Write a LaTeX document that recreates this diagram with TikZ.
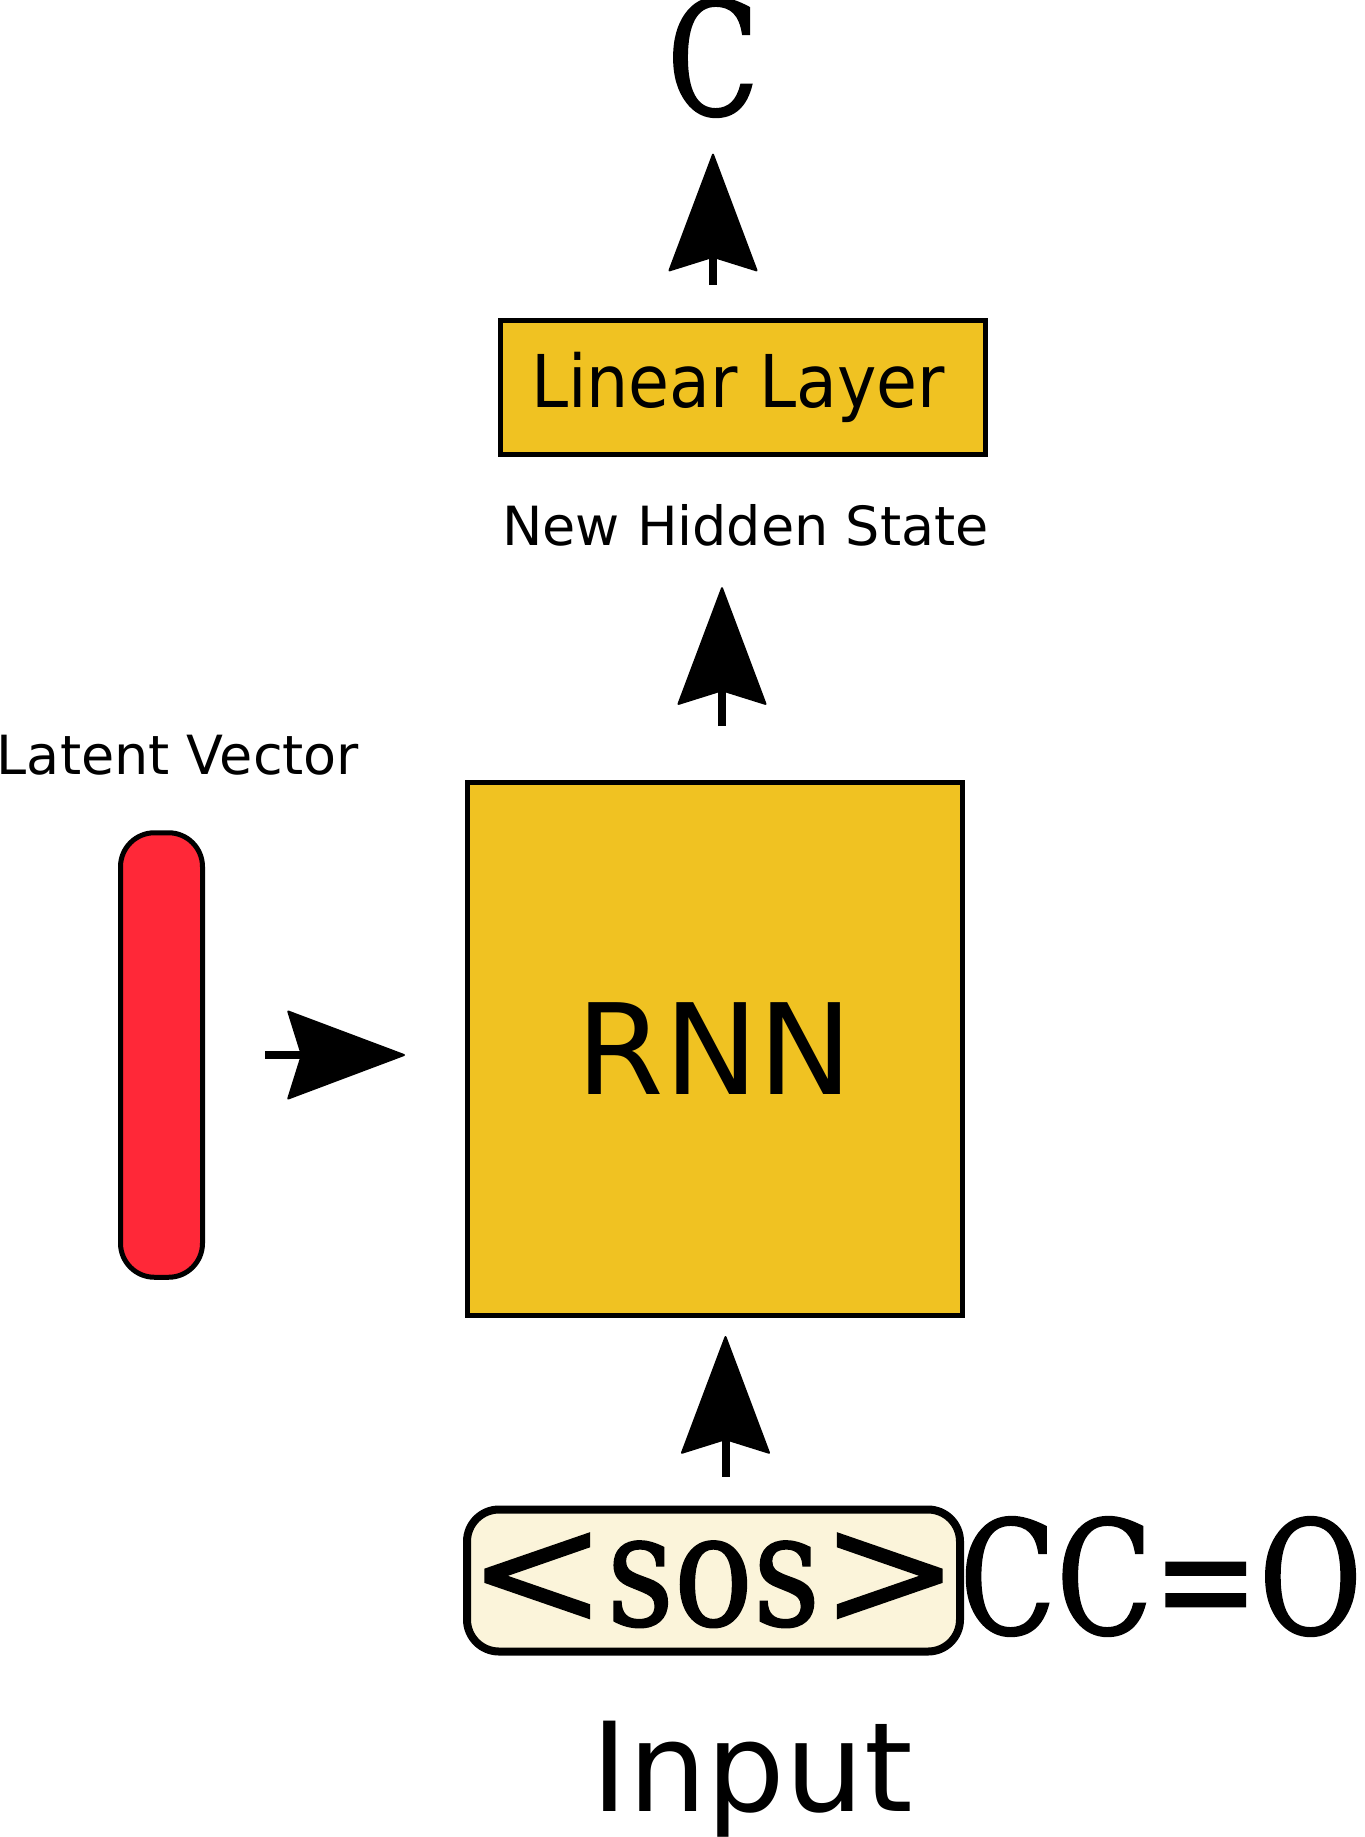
\documentclass[tikz,border=0pt]{standalone}
\usepackage{fontspec}
\usetikzlibrary{arrows.meta}
\newfontfamily\dvsans{DejaVu Sans}
\newfontfamily\dvserif[FakeBold=1.2]{DejaVu Serif}
\definecolor{layergold}{RGB}{240,194,34}
\definecolor{latentred}{RGB}{255,40,56}
\definecolor{soscream}{RGB}{251,244,218}
\newcommand{\fsz}[1]{\fontsize{#1}{#1}\selectfont}
\newcommand{\narrow}[2][0.83]{\scalebox{#1}[1]{#2}}

\begin{document}
\begin{tikzpicture}[x=0.5pt, y=-0.5pt,
    arr/.style={-{Stealth[length=60pt, width=45pt, inset=7pt, line width=1pt, round]}, line width=4pt},
    layer/.style={draw, line width=2.5pt, fill=layergold, inner sep=0pt},
    lbl/.style={font=\dvsans\fsz{27pt}, inner sep=0pt, anchor=base}]
    \useasboundingbox (0,0) rectangle (1365,1837);

    % Output token and linear layer
    \node[font=\dvserif\fsz{79pt}, inner sep=0pt, anchor=base] (c) at (713,115) {\narrow[0.76]{C}};
    \node[layer, minimum width=242.5pt, minimum height=67pt, font=\dvsans\fsz{36.4pt}] (linear) at (743,387.5) {\scalebox{0.915}[1]{Linear Layer}\hspace*{5pt}};
    \node[lbl] (hidden) at (745.5,545) {New Hidden State};

    % RNN cell, fed by the latent vector
    \node[layer, minimum width=247.5pt, minimum height=266.5pt, font=\dvsans\fsz{63pt}] (rnn) at (715,1049) {RNN};
    \node[lbl] (latentlbl) at (178,774) {Latent Vector};
    \node[draw, line width=2.5pt, fill=latentred, rounded corners=17pt, minimum width=41pt, minimum height=222.25pt, inner sep=0pt] (latent) at (161.5,1055) {};

    % Input token
    \node[draw, line width=4pt, fill=soscream, rounded corners=16pt, minimum width=246.5pt, minimum height=71pt, inner sep=0pt, font=\dvserif\fsz{79pt}] (sos) at (713.5,1580.5) {\narrow[1.05]{<}\narrow{sos}\narrow[1.05]{>}};
    \node[font=\dvserif\fsz{79pt}, inner sep=0pt, anchor=base west] (smiles) at (959,1634) {\narrow[0.8]{CC=O}};
    \node[font=\dvsans\fsz{62pt}, inner sep=0pt, anchor=base] (input) at (752,1811) {Input};

    \draw[arr, shorten <=16.5pt, shorten >=18pt] (c.south |- linear.north) -- (c.south);
    \draw[arr, shorten <=27pt, shorten >=20.5pt] ([xshift=3.5pt]rnn.north) -- ([xshift=3.5pt]rnn.north |- hidden.south);
    \draw[arr, shorten <=30pt, shorten >=30pt] (latent.east) -- (latent.east -| rnn.west);
    \draw[arr, shorten <=14.5pt, shorten >=9pt] ([xshift=6pt]sos.north) -- ([xshift=6pt]sos.north |- rnn.south);
\end{tikzpicture}
\end{document}
